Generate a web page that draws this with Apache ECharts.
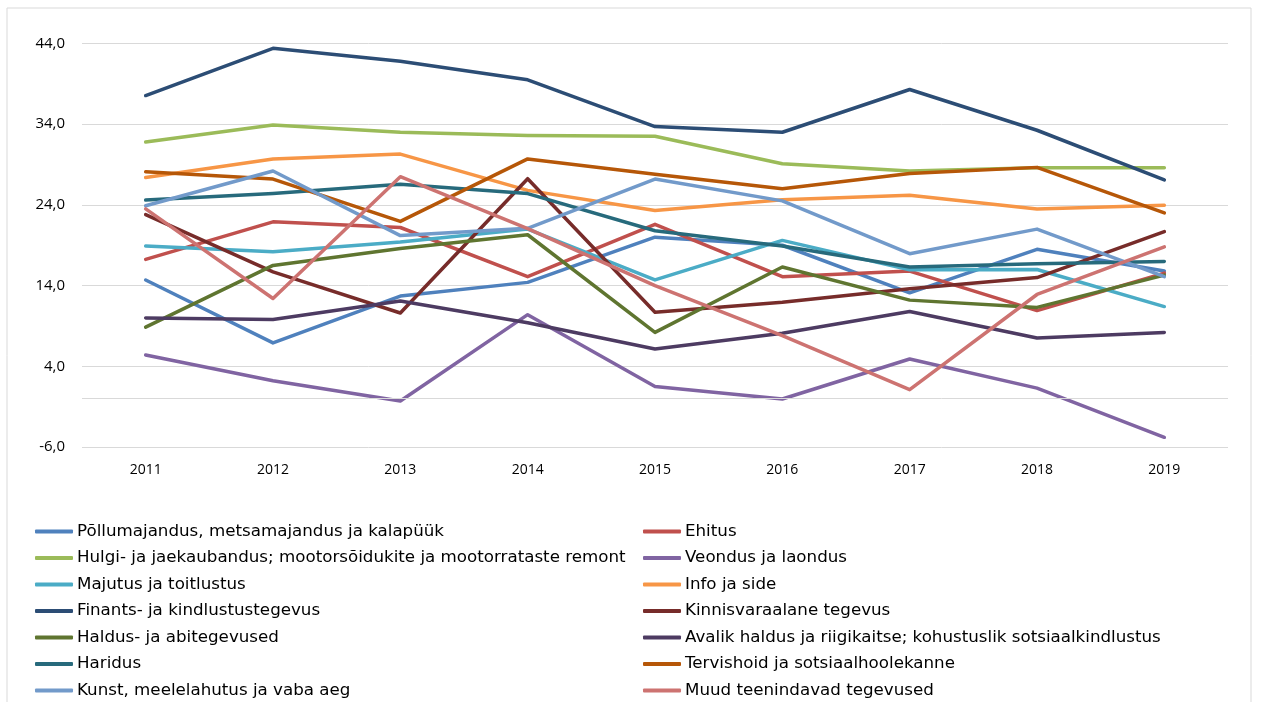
<!DOCTYPE html>
<html>
<head>
<meta charset="utf-8">
<script src="https://cdn.jsdelivr.net/npm/echarts@6/dist/echarts.min.js"></script>
<style>
html,body{margin:0;padding:0;background:#fff;}
#c{width:1261px;height:702px;}
</style>
</head>
<body>
<div id="c"></div>
<script>
const years = ['2011','2012','2013','2014','2015','2016','2017','2018','2019'];
const yTicks = { min: -6, max: 44, interval: 10 };

const names = [
  'Põllumajandus, metsamajandus ja kalapüük',
  'Ehitus',
  'Hulgi- ja jaekaubandus; mootorsõidukite ja mootorrataste remont',
  'Veondus ja laondus',
  'Majutus ja toitlustus',
  'Info ja side',
  'Finants- ja kindlustustegevus',
  'Kinnisvaraalane tegevus',
  'Haldus- ja abitegevused',
  'Avalik haldus ja riigikaitse; kohustuslik sotsiaalkindlustus',
  'Haridus',
  'Tervishoid ja sotsiaalhoolekanne',
  'Kunst, meelelahutus ja vaba aeg',
  'Muud teenindavad tegevused'
];

const pollumajandus = [14.7, 6.9, 12.7, 14.4, 20.0, 19.0, 13.1, 18.5, 15.8];
const ehitus        = [17.25, 21.9, 21.2, 15.1, 21.6, 15.1, 15.8, 10.9, 15.55];
const hulgi         = [31.8, 33.9, 33.0, 32.6, 32.5, 29.1, 28.2, 28.6, 28.6];
const veondus       = [5.4, 2.2, -0.3, 10.4, 1.5, -0.05, 4.9, 1.3, -4.8];
const majutus       = [18.9, 18.2, 19.4, 21.0, 14.7, 19.6, 15.95, 16.0, 11.4];
const info          = [27.4, 29.7, 30.3, 25.8, 23.3, 24.65, 25.2, 23.5, 23.95];
const finants       = [37.55, 43.4, 41.8, 39.5, 33.7, 33.0, 38.3, 33.25, 27.1];
const kinnisvara    = [22.8, 15.7, 10.6, 27.25, 10.7, 11.95, 13.6, 15.0, 20.7];
const haldus        = [8.85, 16.5, 18.6, 20.3, 8.2, 16.3, 12.2, 11.3, 15.3];
const avalik        = [10.0, 9.8, 12.1, 9.4, 6.15, 8.1, 10.8, 7.5, 8.2];
const haridus       = [24.6, 25.4, 26.55, 25.4, 20.8, 18.9, 16.3, 16.7, 17.0];
const tervishoid    = [28.1, 27.2, 21.95, 29.7, 27.8, 26.0, 27.9, 28.65, 23.0];
const kunst         = [23.9, 28.2, 20.2, 21.1, 27.2, 24.5, 17.95, 21.0, 15.1];
const muud          = [23.5, 12.4, 27.5, 21.05, 14.0, 7.8, 1.1, 12.9, 18.8];

const seriesData = [pollumajandus, ehitus, hulgi, veondus, majutus, info, finants,
  kinnisvara, haldus, avalik, haridus, tervishoid, kunst, muud];

const colors = ['#4F81BD','#C0504D','#9BBB59','#8064A2','#4BACC6','#F79646','#2C4D75',
  '#772C2A','#5F7530','#4D3B62','#276A7C','#B65708','#729ACA','#CD7371'];

const FONT = '"Open Sans", sans-serif';
const LEGEND_FONT = '"DejaVu Sans", "Open Sans", sans-serif';

const series = seriesData.map((d, i) => {
  const s = {
    name: names[i],
    type: 'line',
    data: d,
    symbol: 'none',
    lineStyle: { width: 3.5, color: colors[i], cap: 'round', join: 'round' },
    itemStyle: { color: colors[i] },
    emphasis: { disabled: true }
  };
  if (i === 0) {
    s.markLine = {
      silent: true, symbol: 'none', label: { show: false },
      lineStyle: { color: '#D9D9D9', width: 1, type: 'solid' },
      data: [{ yAxis: 0 }]
    };
  }
  return s;
});

const leftNames = names.filter((n, i) => i % 2 === 0);
const rightNames = names.filter((n, i) => i % 2 === 1);

const legendCommon = {
  type: 'plain',
  orient: 'vertical',
  top: 521.5,
  height: 300,
  padding: 0,
  itemWidth: 38,
  itemHeight: 4,
  itemGap: 6.5,
  icon: 'roundRect',
  textStyle: { fontFamily: LEGEND_FONT, fontSize: 16.7, color: '#000', lineHeight: 20, padding: [0, 0, 0, -1] },
  selectedMode: false
};

const chart = echarts.init(document.getElementById('c'));
chart.setOption({
  animation: false,
  backgroundColor: '#fff',
  color: colors,
  graphic: [{
    type: 'rect', shape: { x: 7, y: 8, width: 1244, height: 720 },
    style: { fill: 'none', stroke: '#D9D9D9', lineWidth: 1 }, silent: true, z: -1
  }],
  grid: { left: 82, right: 33, top: 43.5, bottom: 255 },
  legend: [
    Object.assign({}, legendCommon, { left: 35, data: leftNames }),
    Object.assign({}, legendCommon, { left: 643, data: rightNames })
  ],
  xAxis: {
    type: 'category',
    data: years,
    boundaryGap: true,
    axisLine: { show: false },
    axisTick: { show: false },
    axisLabel: { fontFamily: FONT, fontSize: 14, color: '#000', margin: 16 }
  },
  yAxis: {
    type: 'value',
    min: yTicks.min, max: yTicks.max, interval: yTicks.interval,
    axisLine: { show: false },
    axisTick: { show: false },
    splitLine: { lineStyle: { color: '#D9D9D9', width: 1 } },
    axisLabel: {
      fontFamily: FONT, fontSize: 15, color: '#000', margin: 17,
      formatter: v => v.toFixed(1).replace('.', ',')
    }
  },
  series: series
});
</script>
</body>
</html>
